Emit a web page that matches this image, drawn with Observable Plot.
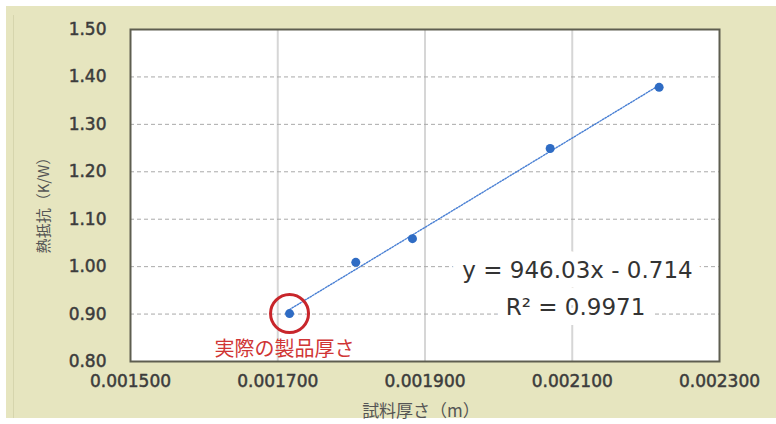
<!DOCTYPE html>
<html>
<head>
<meta charset="utf-8">
<script src="https://cdn.jsdelivr.net/npm/d3@7"></script>
<script src="https://cdn.jsdelivr.net/npm/@observablehq/plot@0.6"></script>
<style>
  html, body { margin: 0; padding: 0; background: #ffffff; }
  body { width: 776px; height: 424px; position: relative; overflow: hidden; }
  #panel { position: absolute; left: 6px; top: 6px; width: 770px; height: 412px; background: #e6e5bf; }
  #edge { position: absolute; left: 7px; top: 9px; width: 1px; height: 403px; background: #d6d5ad; }
  #chart { position: absolute; left: 0; top: 0; }
  #chart svg { overflow: visible; }
</style>
</head>
<body>
<div id="panel"><div id="edge"></div><div id="chart"></div></div>
<script>
// Data
const thickness = [0.001716, 0.001806, 0.001883, 0.002070, 0.002218];   // 試料厚さ (m)
const resistance = [0.901, 1.009, 1.059, 1.249, 1.378];                 // 熱抵抗 (K/W)
const xTicks = [0.0015, 0.0017, 0.0019, 0.0021, 0.0023];
const yTicks = [0.8, 0.9, 1.0, 1.1, 1.2, 1.3, 1.4, 1.5];
const xLabel = "試料厚さ（m）";
const yLabel = "熱抵抗（K/W）";
const equationLines = ["y = 946.03x - 0.714", "R² = 0.9971"];
const highlightLabel = "実際の製品厚さ";
const highlightIndex = 0;

const data = thickness.map((t, i) => ({x: t, y: resistance[i]}));
const highlighted = [data[highlightIndex]];

const eqStyle = {fontSize: 23, fill: "#333", textAnchor: "middle", lineAnchor: "middle",
  stroke: "white", strokeWidth: 20, strokeLinejoin: "round", paintOrder: "stroke"};

const chart = Plot.plot({
  width: 770,
  height: 412,
  marginLeft: 124,
  marginTop: 23,
  marginRight: 57,
  marginBottom: 57,
  style: {fontFamily: "DejaVu Sans", background: "transparent", overflow: "visible"},
  x: {domain: [xTicks[0], xTicks[xTicks.length - 1]]},
  y: {domain: [yTicks[0], yTicks[yTicks.length - 1]]},
  marks: [
    Plot.frame({fill: "white"}),
    Plot.ruleX(xTicks.slice(1, -1), {stroke: "#d6d6d6", strokeWidth: 2}),
    Plot.ruleY(yTicks.slice(1, -1), {stroke: "#a9a9a9", strokeDasharray: "4,3"}),
    Plot.linearRegressionY(data, {x: "x", y: "y", ci: 0, stroke: "#4a80d4", strokeWidth: 1.4, strokeDasharray: "1.5,1.5"}),
    Plot.dot(data, {x: "x", y: "y", r: 4.5, fill: "#2f6cc4"}),
    Plot.dot(highlighted, {x: "x", y: "y", r: 19, fill: "none", stroke: "#c8262b", strokeWidth: 3}),
    Plot.text(highlighted, {x: "x", y: "y", text: () => highlightLabel, dx: -5, dy: 36,
      fill: "#d03535", fontSize: 20, fontFamily: "Noto Sans CJK JP"}),
    Plot.text([equationLines[0]], {frameAnchor: "top-left", text: d => d, dx: 447, dy: 241, ...eqStyle}),
    Plot.text([equationLines[1]], {frameAnchor: "top-left", text: d => d, dx: 445, dy: 278, ...eqStyle}),
    Plot.axisX({ticks: xTicks, tickSize: 0, tickPadding: 13, tickFormat: d => d.toFixed(6),
      fontSize: 17, fill: "#3c3c3c", textStroke: "#3c3c3c", textStrokeWidth: 0.5, label: null}),
    Plot.axisY({ticks: yTicks, tickSize: 0, tickPadding: 24, tickFormat: d => d.toFixed(2),
      fontSize: 17, fill: "#3c3c3c", textStroke: "#3c3c3c", textStrokeWidth: 0.5, label: null}),
    Plot.frame({stroke: "#5e5e50", strokeWidth: 2}),
    Plot.text([yLabel], {frameAnchor: "left", text: d => d, rotate: -90, dx: -86, dy: 6,
      textAnchor: "middle", lineAnchor: "middle",
      fontSize: 15, fill: "#555", fontFamily: "Noto Sans CJK JP"}),
    Plot.text([xLabel], {frameAnchor: "bottom", text: d => d, dx: -4, dy: 50,
      textAnchor: "middle", lineAnchor: "middle",
      fontSize: 17, fill: "#555", fontFamily: "Noto Sans CJK JP"})
  ]
});
document.getElementById("chart").appendChild(chart);
</script>
</body>
</html>
